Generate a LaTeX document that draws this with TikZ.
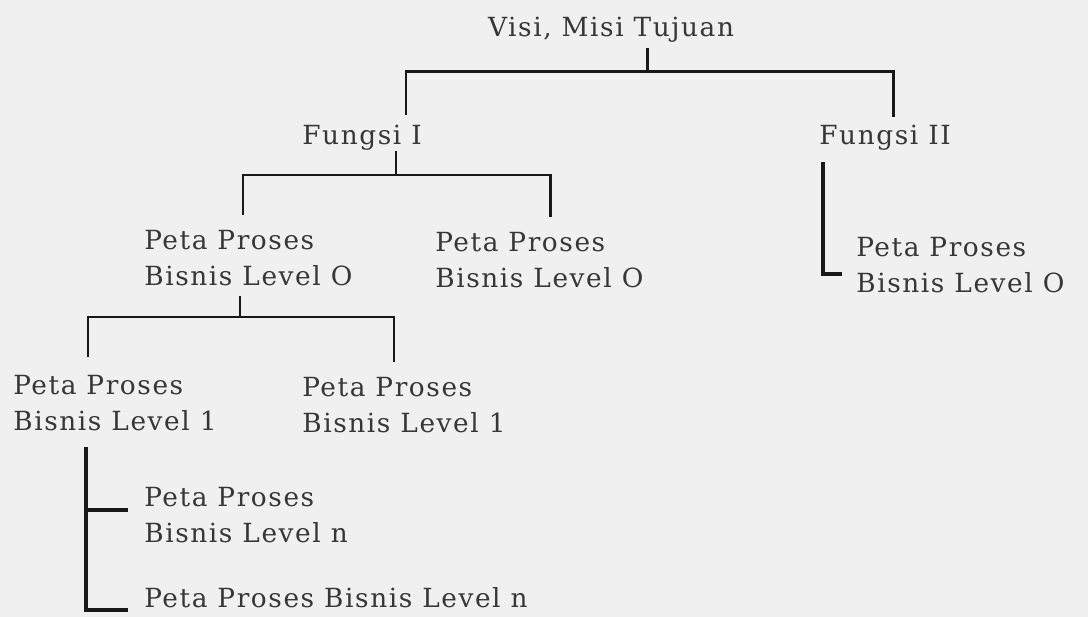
\documentclass[tikz,border=0pt]{standalone}
\usepackage{fontspec}
\setmainfont{DejaVu Serif}[LetterSpace=6]
\usepackage{tikz}
\usetikzlibrary{positioning}
\usetikzlibrary{calc}
\definecolor{papercolor}{RGB}{240,240,240}
\definecolor{inkcolor}{RGB}{55,55,55}
\definecolor{linecolor}{RGB}{25,25,25}

\begin{document}
\begin{tikzpicture}[
    x=0.02cm, y=-0.02cm,
    lbl/.style={inner sep=0pt, anchor=west, align=left, text=inkcolor, font=\fontsize{15pt}{20.4pt}\selectfont},
    link/.style={draw=linecolor, line width=1.7pt},
    heavy/.style={draw=linecolor, line width=2.8pt}
]

% Paper
\fill[papercolor] (0,0) rectangle (1088,617);
\useasboundingbox (0,0) rectangle (1088,617);

% Top
\node[lbl, anchor=base] (visi) at (611,37) {Visi, Misi Tujuan};

% Functions
\node[lbl, anchor=base west] (f1) at (302,145) {Fungsi I};
\node[lbl, anchor=base west] (f2) at (819,145) {Fungsi II};

% Level 0
\node[lbl] (lo1) at (144,258) {Peta Proses\\Bisnis Level O};
\node[lbl] (lo2) at (435,260) {Peta Proses\\Bisnis Level O};
\node[lbl] (lo3) at (856,265) {Peta Proses\\Bisnis Level O};

% Level 1
\node[lbl] (l1a) at (13,403) {Peta Proses\\Bisnis Level 1};
\node[lbl] (l1b) at (302,405) {Peta Proses\\Bisnis Level 1};

% Level n
\node[lbl] (ln1) at (144,515) {Peta Proses\\Bisnis Level n};
\node[lbl, anchor=base west] (ln2) at (144,607) {Peta Proses Bisnis Level n};

% Bus points
\coordinate (bus0) at (647,72);
\coordinate (f1drop) at (406,115);
\coordinate (f2drop) at (893,117);
\coordinate (bus1) at (396,175);
\coordinate (lo1drop) at (243,215);
\coordinate (lo2drop) at (550,217);
\coordinate (bus2) at (240,317);
\coordinate (l1adrop) at (88,357);
\coordinate (l1bdrop) at (394,362);
\coordinate (stem) at (86,447);

% Visi -> Fungsi
\draw[link] ([yshift=-1mm]visi.south -| bus0) -- (bus0);
\draw[link] (f1drop) |- (bus0) -| (f2drop);

% Fungsi I -> Level 0
\draw[link] (f1.south -| bus1) -- (bus1);
\draw[link] (lo1drop) |- (bus1) -| (lo2drop);

% Fungsi II -> Level 0
\draw[heavy] ([xshift=0.8mm,yshift=-2.2mm]f2.south west) |- ([xshift=-2.8mm,yshift=-1.8mm]lo3.west);

% Level 0 -> Level 1
\draw[link] ([yshift=-2mm]lo1.south -| bus2) -- (bus2);
\draw[link] (l1adrop) |- (bus2) -| (l1bdrop);

% Level 1 -> Level n
\draw[heavy] (stem) |- ([xshift=-3.2mm,yshift=-0.6mm]ln2.base west);
\draw[heavy] ([xshift=-3.2mm,yshift=1mm]ln1.west) -- ([yshift=1mm]ln1.west -| stem);

\end{tikzpicture}
\end{document}
